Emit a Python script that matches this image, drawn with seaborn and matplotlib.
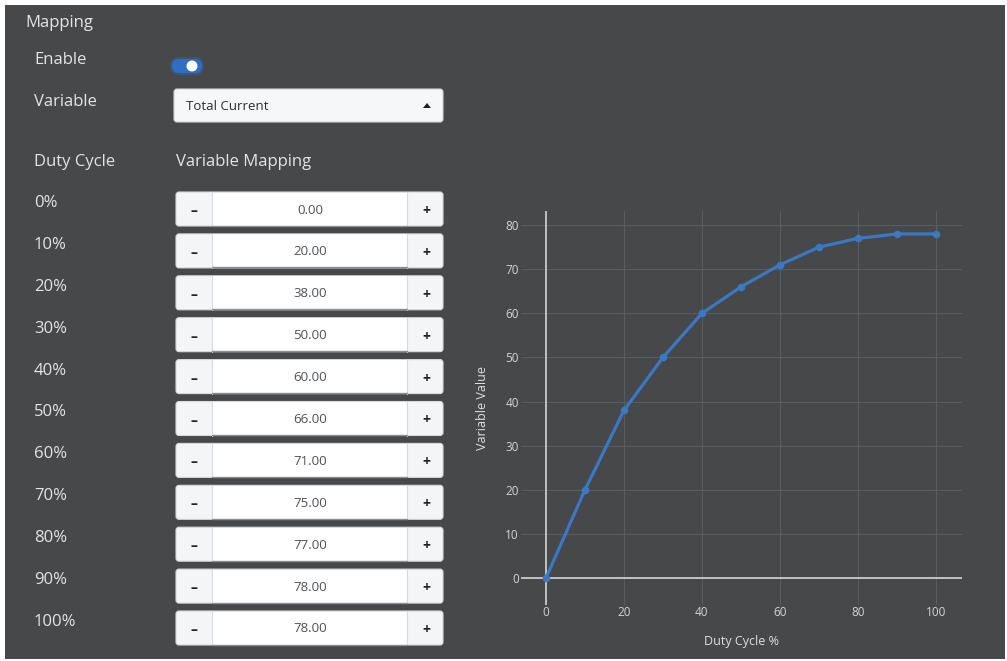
import matplotlib
matplotlib.use("Agg")
import matplotlib.pyplot as plt
import seaborn as sns
from matplotlib.patches import FancyBboxPatch, Rectangle, Circle, Polygon

# Mapping table shown in the panel
duty_cycle = [0, 10, 20, 30, 40, 50, 60, 70, 80, 90, 100]
mapped_value = [0, 20, 38, 50, 60, 66, 71, 75, 77, 78, 78]
duty_labels = [f"{d}%" for d in duty_cycle]
x_ticks = [0, 20, 40, 60, 80, 100]
y_ticks = [0, 10, 20, 30, 40, 50, 60, 70, 80]

sns.set_theme(style="dark")
plt.rcParams['font.family'] = ['Open Sans', 'DejaVu Sans']

W, H = 1007, 661
BG = "#46484a"
TXT = "#e4e4e4"
LINE = "#3b78c4"

fig = plt.figure(figsize=(W / 100, H / 100), dpi=100)
fig.patch.set_facecolor("white")

# full-figure axes in pixel coordinates for the form widgets
ui = fig.add_axes([0, 0, 1, 1])
ui.set_xlim(0, W)
ui.set_ylim(H, 0)
ui.axis("off")
ui.add_patch(Rectangle((5, 5), 1000, 654, facecolor=BG, edgecolor="none"))

ui.text(25, 23, "Mapping", color=TXT, fontsize=12, va="center")
ui.text(34, 60, "Enable", color=TXT, fontsize=12, va="center")
ui.text(34, 102, "Variable", color=TXT, fontsize=12, va="center")
ui.text(34, 162, "Duty Cycle", color=TXT, fontsize=12, va="center")
ui.text(176, 162, "Variable Mapping", color=TXT, fontsize=12, va="center")

# toggle switch
ui.add_patch(FancyBboxPatch((170, 57), 34, 18, boxstyle="round,pad=0,rounding_size=9",
                            facecolor="#2e6fc1", edgecolor="none", alpha=0.35))
ui.add_patch(FancyBboxPatch((172, 59), 30, 14, boxstyle="round,pad=0,rounding_size=7",
                            facecolor="#2e6fc1", edgecolor="none"))
ui.add_patch(Circle((192, 66), 5.5, facecolor="white", edgecolor="none"))

# dropdown
ui.add_patch(FancyBboxPatch((174, 89), 269, 33, boxstyle="round,pad=0,rounding_size=3",
                            facecolor="#f5f7f8", edgecolor="#d0d4d8", linewidth=0.8))
ui.text(186, 107, "Total Current", color="#2a2d30", fontsize=9.5, va="center")
ui.add_patch(Polygon([(423, 108), (431, 108), (427, 103)], closed=True,
                     facecolor="#222", edgecolor="none"))

# spin inputs, one per duty cycle row
for i, (lab, val) in enumerate(zip(duty_labels, mapped_value)):
    top = 192 + 41.9 * i
    ui.text(34, top + 11, lab, color=TXT, fontsize=12, va="center")
    ui.add_patch(FancyBboxPatch((176, top), 267, 34, boxstyle="round,pad=0,rounding_size=3",
                                facecolor="#f3f5f6", edgecolor="#d6dadd", linewidth=0.8))
    ui.add_patch(Rectangle((212, top + 0.5), 195, 33, facecolor="white", edgecolor="none"))
    ui.plot([212, 212], [top, top + 34], color="#d6dadd", lw=0.8)
    ui.plot([407, 407], [top, top + 34], color="#d6dadd", lw=0.8)
    ui.plot([212, 407], [top + 33.5, top + 33.5], color="#8a8f94", lw=1.0)
    ui.text(310, top + 18, f"{val:.2f}", color="#4c5156", fontsize=9.5, ha="center", va="center")
    ui.text(194, top + 19, "\u2013", color="#222", fontsize=10, fontweight="bold",
            ha="center", va="center")
    ui.text(426, top + 19, "+", color="#222", fontsize=10, fontweight="bold",
            ha="center", va="center")

# chart
ax = fig.add_axes([521 / W, 1 - 605 / H, 441 / W, 394 / H])
ax.set_facecolor("none")
sns.lineplot(x=duty_cycle, y=mapped_value, ax=ax, color=LINE, linewidth=2.3,
             marker="o", markersize=5.5, markeredgewidth=0, zorder=3)
ax.set_xlim(-6.4, 106.7)
ax.set_ylim(-6.1, 83.2)
ax.set_xticks(x_ticks)
ax.set_yticks(y_ticks)
ax.grid(True, color="#585d5f", linewidth=0.8)
ax.axhline(0, color="#d4d4d4", linewidth=1.2, zorder=2)
ax.axvline(0, color="#d4d4d4", linewidth=1.2, zorder=2)
for s in ax.spines.values():
    s.set_visible(False)
ax.tick_params(colors="#d4d4d4", labelsize=8.5, length=0)
ax.tick_params(axis="y", pad=1.5)
ax.tick_params(axis="x", pad=0.5)
ax.set_xlabel("Duty Cycle %", color="#e0e0e0", fontsize=9, labelpad=12)
ax.set_ylabel("Variable Value", color="#e0e0e0", fontsize=9, labelpad=12)

fig.savefig("out.png", dpi=100, facecolor=fig.get_facecolor())
